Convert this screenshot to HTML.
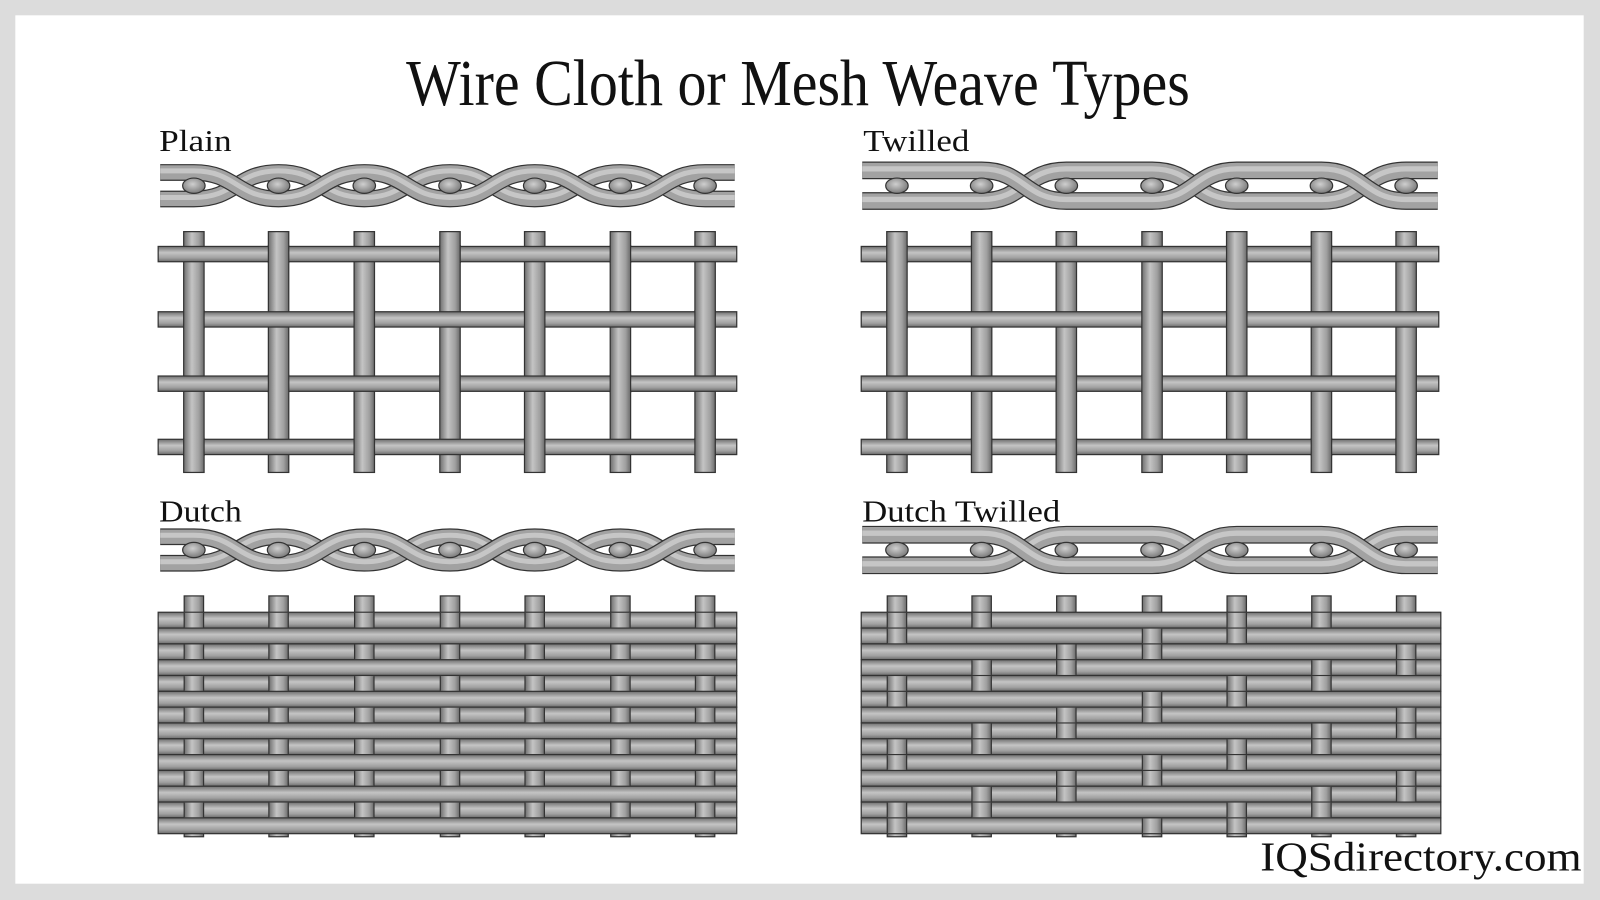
<!DOCTYPE html>
<html><head><meta charset="utf-8"><style>
html,body{margin:0;padding:0;background:#dcdcdc;}
svg{display:block;}
</style></head><body>
<svg id="s" xmlns="http://www.w3.org/2000/svg" width="1600" height="900" viewBox="0 0 1568 882" preserveAspectRatio="none">
<defs>
<linearGradient id="gv" x1="0" y1="0" x2="1" y2="0">
<stop offset="0" stop-color="#6e6e6e"/><stop offset="0.4" stop-color="#c4c4c4"/><stop offset="0.75" stop-color="#a0a0a0"/><stop offset="1" stop-color="#6a6a6a"/>
</linearGradient>
<linearGradient id="gh" x1="0" y1="0" x2="0" y2="1">
<stop offset="0" stop-color="#6e6e6e"/><stop offset="0.4" stop-color="#c4c4c4"/><stop offset="0.75" stop-color="#a0a0a0"/><stop offset="1" stop-color="#6a6a6a"/>
</linearGradient>
<radialGradient id="ge" cx="0.45" cy="0.4" r="0.6">
<stop offset="0" stop-color="#cfcfcf"/><stop offset="1" stop-color="#7a7a7a"/>
</radialGradient>
</defs>
<rect x="0" y="0" width="1568" height="882" fill="#dcdcdc"/>
<rect x="15" y="15" width="1537" height="851" fill="#ffffff"/>
<g id="shapes"></g>
<text x="782" y="103" text-anchor="middle" font-family="Liberation Serif, serif" font-size="64" fill="#111" textLength="768" lengthAdjust="spacingAndGlyphs">Wire Cloth or Mesh Weave Types</text>
<text x="156" y="148" font-family="Liberation Serif, serif" font-size="30" fill="#111" textLength="71" lengthAdjust="spacingAndGlyphs">Plain</text>
<text x="846" y="148" font-family="Liberation Serif, serif" font-size="30" fill="#111" textLength="104" lengthAdjust="spacingAndGlyphs">Twilled</text>
<text x="156" y="511" font-family="Liberation Serif, serif" font-size="30" fill="#111" textLength="81" lengthAdjust="spacingAndGlyphs">Dutch</text>
<text x="845" y="511" font-family="Liberation Serif, serif" font-size="30" fill="#111" textLength="194" lengthAdjust="spacingAndGlyphs">Dutch Twilled</text>
<text x="1235" y="853" font-family="Liberation Serif, serif" font-size="40" fill="#111" textLength="315" lengthAdjust="spacingAndGlyphs">IQSdirectory.com</text>
</svg>
<script>
const NS='http://www.w3.org/2000/svg';
const G=document.getElementById('shapes');
function el(t,a){const e=document.createElementNS(NS,t);for(const k in a)e.setAttribute(k,a[k]);G.appendChild(e);return e;}
function vbar(x,w,y0,y1,stroke){el('rect',{x:x-w/2,y:y0,width:w,height:y1-y0,fill:'url(#gv)',stroke:stroke?'#333':'none','stroke-width':1.2});}
function vseg(x,w,y0,y1){el('rect',{x:x-w/2,y:y0,width:w,height:y1-y0,fill:'url(#gv)'});
 el('line',{x1:x-w/2,y1:y0,x2:x-w/2,y2:y1,stroke:'#333','stroke-width':1.2});
 el('line',{x1:x+w/2,y1:y0,x2:x+w/2,y2:y1,stroke:'#333','stroke-width':1.2});}
function hbar(x0,x1,y,h){el('rect',{x:x0,y:y-h/2,width:x1-x0,height:h,fill:'url(#gh)',stroke:'#333','stroke-width':1.2});}
const XP=[190,273,357,441,524,608,691];
const XT=[879,962,1045,1129,1212,1295,1378];
function grid(X,x0,x1,twill){
 const Y=[249,313,376,438];
 X.forEach(x=>vbar(x,20,227,463,true));
 Y.forEach(y=>hbar(x0,x1,y,15));
 Y.forEach((y,i)=>X.forEach((x,j)=>{
  const over=twill?((i+j)%4<2):((i+j)%2==1);
  if(over)vseg(x,20,y-9,y+9);
 }));
}
grid(XP,155,722,false);
grid(XT,844,1410,true);
function dutch(X,x0,x1,twill){
 const top=600,n=14,h=(817-600)/n;
 X.forEach(x=>vbar(x,19,584,820,true));
 for(let r=0;r<n;r++)hbar(x0,x1,top+h*r+h/2,h);
 for(let r=0;r<n;r++)X.forEach((x,j)=>{
  const over=twill?((r+j)%4<2):(r%2==0);
  if(over)vseg(x,19,top+h*r+0.6,top+h*(r+1)-0.6);
 });
}
dutch(XP,155,722,false);
dutch(XT,844,1412,true);
function wire(X,x0,x1,c,amp,bw,st){
 let d='M'+x0+','+(c+st[0]*amp)+' L'+X[0]+','+(c+st[0]*amp);
 for(let i=0;i<X.length-1;i++){
  const dx=X[i+1]-X[i];
  d+=' C'+(X[i]+dx/2)+','+(c+st[i]*amp)+' '+(X[i+1]-dx/2)+','+(c+st[i+1]*amp)+' '+X[i+1]+','+(c+st[i+1]*amp);
 }
 d+=' L'+x1+','+(c+st[st.length-1]*amp);
 el('path',{d:d,fill:'none',stroke:'#333','stroke-width':bw+2.4});
 el('path',{d:d,fill:'none',stroke:'#a2a2a2','stroke-width':bw});
 el('path',{d:d,fill:'none',stroke:'#c6c6c6','stroke-width':bw*0.35,transform:'translate(0,-1.5)'});
}
function profile(X,x0,x1,c,amp,bw,A){
 const B=A.map(v=>-v);
 wire(X,x0,x1,c,amp,bw,B);
 wire(X,x0,x1,c,amp,bw,A);
 X.forEach(x=>el('ellipse',{cx:x,cy:c,rx:11,ry:7.5,fill:'url(#ge)',stroke:'#333','stroke-width':1.2}));
}
const alt=[-1,1,-1,1,-1,1,-1];
const tw=[-1,-1,1,1,-1,-1,1];
profile(XP,157,720,182,13,14,alt);
profile(XT,845,1409,182,15,15,tw);
profile(XP,157,720,539,13,14,alt);
profile(XT,845,1409,539,15,15,tw);
</script>
</body></html>
